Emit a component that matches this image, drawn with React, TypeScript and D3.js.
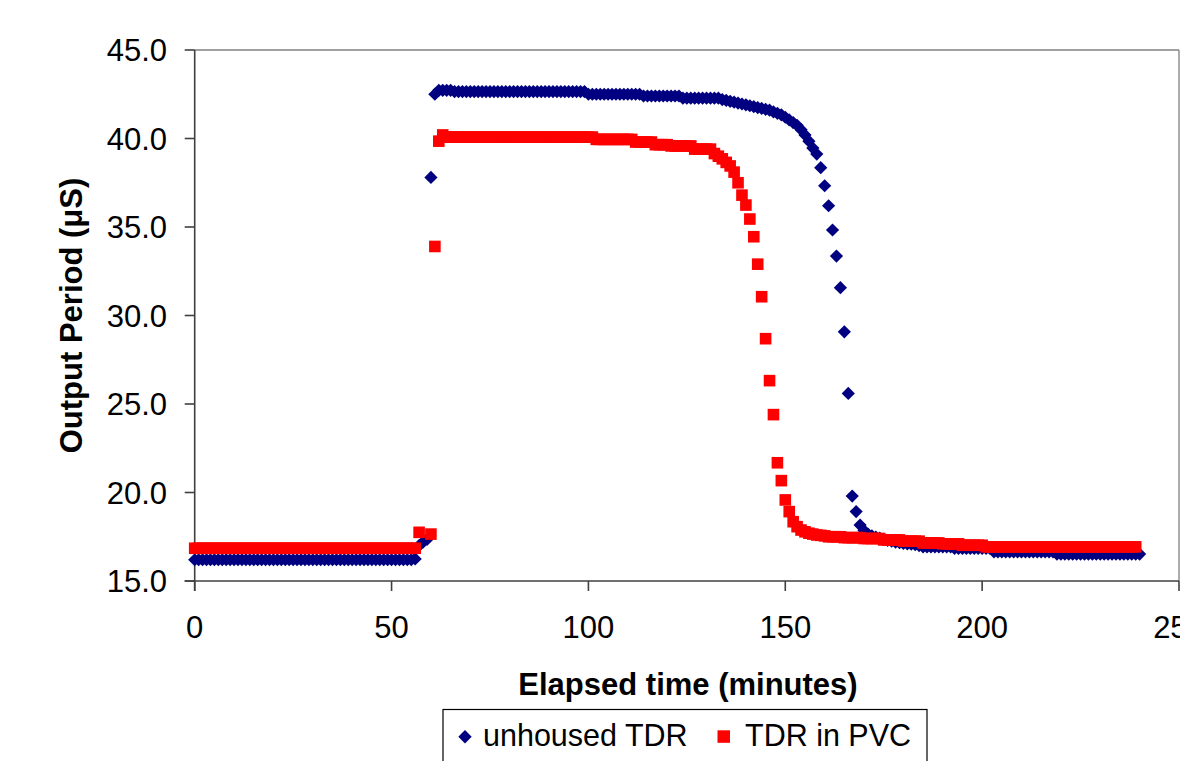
import React from "react";
import * as d3 from "d3";

const xTicks = [0, 50, 100, 150, 200, 250];
const yTicks = [15, 20, 25, 30, 35, 40, 45];

// unhoused TDR, one reading per minute (0..240)
const unhousedTDR: number[] = [
  16.2, 16.2, 16.2, 16.2, 16.2, 16.2, 16.2, 16.2, 16.2, 16.2,
  16.2, 16.2, 16.2, 16.2, 16.2, 16.2, 16.2, 16.2, 16.2, 16.2,
  16.2, 16.2, 16.2, 16.2, 16.2, 16.2, 16.2, 16.2, 16.2, 16.2,
  16.2, 16.2, 16.2, 16.2, 16.2, 16.2, 16.2, 16.2, 16.2, 16.2,
  16.2, 16.2, 16.2, 16.2, 16.2, 16.2, 16.2, 16.2, 16.2, 16.2,
  16.2, 16.2, 16.2, 16.2, 16.2, 16.2, 16.25, 17.0, 17.2, 17.35,
  37.8, 42.5, 42.72, 42.72, 42.72, 42.72, 42.65, 42.65, 42.65, 42.65,
  42.65, 42.65, 42.65, 42.65, 42.65, 42.65, 42.65, 42.65, 42.65, 42.65,
  42.65, 42.65, 42.65, 42.65, 42.65, 42.65, 42.65, 42.65, 42.65, 42.65,
  42.65, 42.65, 42.65, 42.65, 42.65, 42.65, 42.65, 42.65, 42.65, 42.65,
  42.5, 42.5, 42.5, 42.5, 42.5, 42.5, 42.5, 42.5, 42.5, 42.5,
  42.5, 42.5, 42.5, 42.5, 42.4, 42.4, 42.4, 42.4, 42.4, 42.4,
  42.4, 42.4, 42.4, 42.4, 42.28, 42.28, 42.28, 42.28, 42.28, 42.28,
  42.28, 42.28, 42.28, 42.28, 42.2, 42.15, 42.1, 42.05, 42.0, 41.95,
  41.9, 41.85, 41.8, 41.75, 41.7, 41.65, 41.6, 41.5, 41.42, 41.34,
  41.2, 41.05, 40.9, 40.75, 40.5, 40.2, 39.85, 39.46, 39.12, 38.35,
  37.33, 36.2, 34.83, 33.36, 31.57, 29.08, 25.6, 19.8, 18.92, 18.16,
  17.85, 17.65, 17.55, 17.48, 17.42, 17.36, 17.3, 17.25, 17.2, 17.16,
  17.12, 17.1, 17.08, 17.05, 17.0, 16.93, 16.93, 16.93, 16.93, 16.93,
  16.93, 16.93, 16.93, 16.84, 16.84, 16.84, 16.84, 16.84, 16.84, 16.84,
  16.84, 16.84, 16.84, 16.65, 16.65, 16.65, 16.65, 16.65, 16.65, 16.65,
  16.65, 16.65, 16.65, 16.65, 16.65, 16.65, 16.65, 16.65, 16.65, 16.52,
  16.52, 16.52, 16.52, 16.52, 16.52, 16.52, 16.52, 16.52, 16.52, 16.52,
  16.52, 16.52, 16.52, 16.52, 16.52, 16.52, 16.52, 16.52, 16.52, 16.52,
  16.52,
];

// TDR in PVC, one reading per minute (0..239), null = no reading
const tdrInPVC: (number | null)[] = [
  16.85, 16.85, 16.85, 16.85, 16.85, 16.85, 16.85, 16.85, 16.85, 16.85,
  16.85, 16.85, 16.85, 16.85, 16.85, 16.85, 16.85, 16.85, 16.85, 16.85,
  16.85, 16.85, 16.85, 16.85, 16.85, 16.85, 16.85, 16.85, 16.85, 16.85,
  16.85, 16.85, 16.85, 16.85, 16.85, 16.85, 16.85, 16.85, 16.85, 16.85,
  16.85, 16.85, 16.85, 16.85, 16.85, 16.85, 16.85, 16.85, 16.85, 16.85,
  16.85, 16.85, 16.85, 16.85, 16.85, 16.85, 16.85, 17.75, null, null,
  17.65, 33.9, 39.85, 40.2, 40.08, 40.08, 40.08, 40.08, 40.08, 40.08,
  40.08, 40.08, 40.08, 40.08, 40.08, 40.08, 40.08, 40.08, 40.08, 40.08,
  40.08, 40.08, 40.08, 40.08, 40.08, 40.08, 40.08, 40.08, 40.08, 40.08,
  40.08, 40.08, 40.08, 40.08, 40.08, 40.08, 40.08, 40.08, 40.08, 40.08,
  40.08, 40.08, 39.95, 39.95, 39.95, 39.95, 39.95, 39.95, 39.95, 39.95,
  39.95, 39.95, 39.8, 39.8, 39.8, 39.8, 39.8, 39.65, 39.65, 39.65,
  39.65, 39.58, 39.58, 39.58, 39.58, 39.58, 39.58, 39.4, 39.4, 39.4,
  39.4, 39.4, 39.15, 39.0, 38.85, 38.65, 38.45, 38.1, 37.5, 36.8,
  36.24, 35.45, 34.45, 32.9, 31.06, 28.69, 26.32, 24.4, 21.68, 20.67,
  19.58, 18.92, 18.35, 18.07, 17.88, 17.78, 17.7, 17.65, 17.6, 17.58,
  17.55, 17.5, 17.5, 17.5, 17.5, 17.45, 17.45, 17.45, 17.45, 17.45,
  17.4, 17.4, 17.4, 17.4, 17.4, 17.32, 17.32, 17.32, 17.32, 17.32,
  17.25, 17.25, 17.25, 17.25, 17.25, 17.15, 17.15, 17.15, 17.15, 17.15,
  17.1, 17.1, 17.1, 17.1, 17.1, 17.02, 17.02, 17.02, 17.02, 17.02,
  17.02, 16.93, 16.93, 16.93, 16.93, 16.93, 16.93, 16.93, 16.93, 16.93,
  16.93, 16.93, 16.93, 16.93, 16.93, 16.93, 16.93, 16.93, 16.93, 16.93,
  16.93, 16.93, 16.93, 16.93, 16.93, 16.93, 16.93, 16.93, 16.93, 16.93,
  16.93, 16.93, 16.93, 16.93, 16.93, 16.93, 16.93, 16.93, 16.93, 16.93,
];

const seriesNames = ["unhoused TDR", "TDR in PVC"];
const xTitle = "Elapsed time (minutes)";
const yTitle = "Output Period (μS)";

const W = 1180;
const H = 761;
const L = 194.7;
const R = 1179;
const T = 50;
const B = 581;
const FONT = "'Liberation Sans', Arial, sans-serif";
const BLUE = "#000080";
const RED = "#FF0000";

const diamond = (r: number) => `M0,${-r}L${r},0L0,${r}L${-r},0Z`;

export default function App() {
  const x = d3.scaleLinear().domain([0, 250]).range([L, R]);
  const y = d3.scaleLinear().domain([15, 45]).range([B, T]);
  const fmt = d3.format(".1f");

  const bluePts = unhousedTDR.map((v, i) => ({ t: i, v }));
  const redPts = tdrInPVC
    .map((v, i) => ({ t: i, v }))
    .filter((d) => d.v !== null) as { t: number; v: number }[];

  const sq = 11.6;

  return (
    <svg
      width={W}
      height={H}
      style={{ position: "absolute", left: 0, top: 0, background: "#fff" }}
      fontFamily={FONT}
    >
      <rect x={0} y={0} width={W} height={H} fill="#fff" />
      {/* plot border top/right */}
      <line x1={L} x2={R} y1={T} y2={T} stroke="#808080" strokeWidth={1.3} />
      <line x1={R} x2={R} y1={T} y2={B} stroke="#808080" strokeWidth={1.3} />

      {/* y axis */}
      <line x1={L} x2={L} y1={T} y2={B + 10} stroke="#404040" strokeWidth={1.6} />
      {yTicks.map((t) => (
        <g key={"y" + t}>
          <line x1={L - 10} x2={L} y1={y(t)} y2={y(t)} stroke="#404040" strokeWidth={1.6} />
          <text
            x={167}
            y={y(t)}
            dy="0.36em"
            textAnchor="end"
            fontSize={31}
            fill="#000"
          >
            {fmt(t)}
          </text>
        </g>
      ))}

      {/* x axis */}
      <line x1={L - 10} x2={R} y1={B} y2={B} stroke="#404040" strokeWidth={1.6} />
      {xTicks.map((t) => (
        <g key={"x" + t}>
          <line x1={x(t)} x2={x(t)} y1={B} y2={B + 10} stroke="#404040" strokeWidth={1.6} />
          <text x={x(t)} y={638} textAnchor="middle" fontSize={31} fill="#000">
            {t}
          </text>
        </g>
      ))}

      {/* series */}
      <g>
        {bluePts.map((d) => (
          <path
            key={"b" + d.t}
            d={diamond(6.6)}
            transform={`translate(${x(d.t)},${y(d.v)})`}
            fill={BLUE}
          />
        ))}
      </g>
      <g>
        {redPts.map((d) => (
          <rect
            key={"r" + d.t}
            x={x(d.t) - sq / 2}
            y={y(d.v) - sq / 2}
            width={sq}
            height={sq}
            fill={RED}
          />
        ))}
      </g>

      {/* axis titles */}
      <text
        x={688}
        y={695}
        textAnchor="middle"
        fontSize={31}
        fontWeight="bold"
        fill="#000"
      >
        {xTitle}
      </text>
      <text
        transform={`translate(81.5,${(T + B) / 2}) rotate(-90)`}
        textAnchor="middle"
        fontSize={31}
        fontWeight="bold"
        fill="#000"
      >
        {yTitle}
      </text>

      {/* legend */}
      <rect x={443} y={709.5} width={484} height={70} fill="#fff" stroke="#000" strokeWidth={1.2} />
      <path d={diamond(6.7)} transform="translate(465,736.7)" fill={BLUE} />
      <text x={483} y={745.5} fontSize={30.5} fill="#000">
        {seriesNames[0]}
      </text>
      <rect x={717.5} y={730.3} width={12.5} height={12.5} fill={RED} />
      <text x={745} y={745.5} fontSize={30.5} fill="#000">
        {seriesNames[1]}
      </text>
    </svg>
  );
}
